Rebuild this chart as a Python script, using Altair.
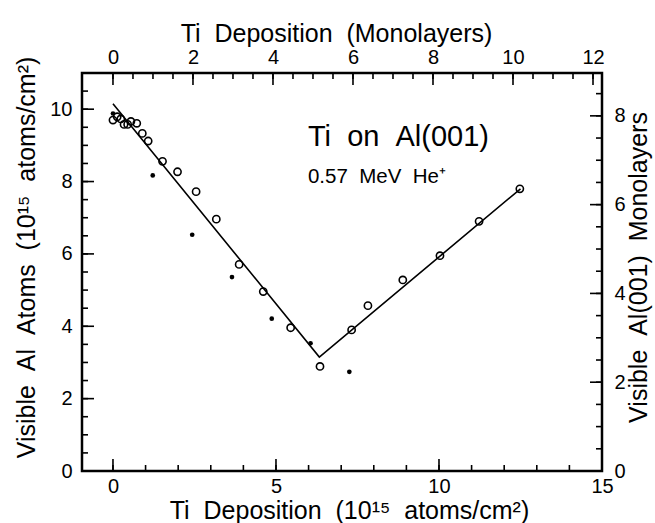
import altair as alt
import pandas as pd

# ---- data ----
open_dep = [0.00, 0.13, 0.24, 0.34, 0.45, 0.55, 0.73, 0.90, 1.08, 1.52, 1.98, 2.55,
            3.17, 3.87, 4.61, 5.45, 6.35, 7.32, 7.82, 8.89, 10.03, 11.23, 12.48]
open_al = [9.70, 9.79, 9.73, 9.58, 9.58, 9.66, 9.61, 9.33, 9.12, 8.56, 8.27, 7.72,
           6.96, 5.71, 4.96, 3.96, 2.89, 3.90, 4.57, 5.28, 5.95, 6.90, 7.80]
filled_dep = [0.00, 1.22, 2.43, 3.65, 4.87, 6.06, 7.25]
filled_al = [9.88, 8.17, 6.53, 5.36, 4.21, 3.53, 2.74]
fit_dep = [0.0, 6.33, 12.5]
fit_al = [10.15, 3.15, 7.80]

ML = 1.227  # 10^15 atoms/cm^2 per Al(001) monolayer

x_major = [0, 5, 10, 15]
x_minor = list(range(0, 16))
y_major = [0, 2, 4, 6, 8, 10]
y_minor = [i * 0.5 for i in range(0, 23)]
mlx_major = [0, 2, 4, 6, 8, 10, 12]
mlx_minor = [i * 0.5 for i in range(0, 25)]
mly_major = [0, 2, 4, 6, 8]
mly_minor = [i * 0.5 for i in range(0, 18)]

annot_text = ["Ti \u00a0on \u00a0Al(001)", "0.57 \u00a0MeV \u00a0He\u207a"]
annot_dep = [5.98, 5.98]
annot_al = [8.98, 7.96]

W, H = 520, 398
FONT = "Liberation Sans"
MAJOR_LEN, MINOR_LEN = 12, 6
TICK_COLOR = "black"

XDOM = [-0.95, 15]
YDOM = [0, 11]


def xs():
    return alt.Scale(domain=XDOM, nice=False, zero=False)


def ys():
    return alt.Scale(domain=YDOM, nice=False, zero=False)


mxs = alt.Scale(domain=[XDOM[0] / ML, XDOM[1] / ML], nice=False, zero=False)
mys = alt.Scale(domain=[YDOM[0] / ML, YDOM[1] / ML], nice=False, zero=False)

open_df = pd.DataFrame({"dep": open_dep, "al": open_al})
filled_df = pd.DataFrame({"dep": filled_dep, "al": filled_al})
fit_df = pd.DataFrame({"dep": fit_dep, "al": fit_al})

# line with bottom / left labels and titles
line = alt.Chart(fit_df).mark_line(color="black", strokeWidth=1.6).encode(
    x=alt.X("dep:Q", scale=xs(), axis=alt.Axis(
        orient="bottom", values=x_major, ticks=False, domain=False, labelFlush=False,
        labelPadding=5, title="Ti \u00a0Deposition \u00a0(10\u00b9\u2075 \u00a0atoms/cm\u00b2)",
        titlePadding=2, titleFontSize=25, titleX=267)),
    y=alt.Y("al:Q", scale=ys(), axis=alt.Axis(
        orient="left", values=y_major, ticks=False, domain=False,
        labelPadding=10, title="Visible \u00a0Al \u00a0Atoms \u00a0(10\u00b9\u2075 \u00a0atoms/cm\u00b2)",
        titlePadding=10, titleFontSize=25, titleY=184)),
)

opens = alt.Chart(open_df).mark_point(shape="circle", filled=False, color="black",
                                      strokeWidth=1.6, size=52, opacity=1).encode(
    x=alt.X("dep:Q", scale=xs(), axis=None),
    y=alt.Y("al:Q", scale=ys(), axis=None),
)

filled = alt.Chart(filled_df).mark_point(shape="circle", filled=True, color="black",
                                         size=22, opacity=1).encode(
    x=alt.X("dep:Q", scale=xs(), axis=None),
    y=alt.Y("al:Q", scale=ys(), axis=None),
)


# inward tick marks drawn from the tick-value lists
def xticks(values, side, length, factor=1.0):
    df = pd.DataFrame({"xv": [v * factor for v in values]})
    if side == "bottom":
        y0, y1 = H, H - length
    else:
        y0, y1 = 0, length
    return alt.Chart(df).mark_rule(color=TICK_COLOR, strokeWidth=1.6, opacity=1).encode(
        x=alt.X("xv:Q", scale=xs(), axis=None),
        y=alt.value(y0), y2=alt.value(y1),
    )


def yticks(values, side, length, factor=1.0):
    df = pd.DataFrame({"yv": [v * factor for v in values]})
    if side == "left":
        x0, x1 = 0, length
    else:
        x0, x1 = W, W - length
    return alt.Chart(df).mark_rule(color=TICK_COLOR, strokeWidth=1.6, opacity=1).encode(
        y=alt.Y("yv:Q", scale=ys(), axis=None),
        x=alt.value(x0), x2=alt.value(x1),
    )


tick_layers = [
    xticks(x_minor, "bottom", MINOR_LEN), xticks(x_major, "bottom", MAJOR_LEN),
    yticks(y_minor, "left", MINOR_LEN), yticks(y_major, "left", MAJOR_LEN),
    xticks(mlx_minor, "top", MINOR_LEN, ML), xticks(mlx_major, "top", MAJOR_LEN, ML),
    yticks(mly_minor, "right", MINOR_LEN, ML), yticks(mly_major, "right", MAJOR_LEN, ML),
]

# monolayer axes (top / right)
ml_labels = alt.Chart(open_df).transform_calculate(
    mlx=f"datum.dep / {ML}", mly=f"datum.al / {ML}"
).mark_point(opacity=0).encode(
    x=alt.X("mlx:Q", scale=mxs, axis=alt.Axis(
        orient="top", values=mlx_major, ticks=False, domain=False, labelFlush=False,
        labelPadding=6, title="Ti \u00a0Deposition \u00a0(Monolayers)", titlePadding=1,
        titleFontSize=25, titleX=254)),
    y=alt.Y("mly:Q", scale=mys, axis=alt.Axis(
        orient="right", values=mly_major, ticks=False, domain=False,
        labelPadding=12, title="Visible \u00a0Al(001) \u00a0Monolayers", titlePadding=1,
        titleFontSize=25, titleAngle=270, titleBaseline="top", titleY=194)),
)

# annotations
ann1 = alt.Chart(pd.DataFrame({"dep": annot_dep[:1], "al": annot_al[:1], "t": annot_text[:1]})).mark_text(
    align="left", baseline="alphabetic", fontSize=29, font=FONT, color="black"
).encode(x=alt.X("dep:Q", scale=xs(), axis=None), y=alt.Y("al:Q", scale=ys(), axis=None), text="t:N")
ann2 = alt.Chart(pd.DataFrame({"dep": annot_dep[1:], "al": annot_al[1:], "t": annot_text[1:]})).mark_text(
    align="left", baseline="alphabetic", fontSize=20.5, font=FONT, color="black"
).encode(x=alt.X("dep:Q", scale=xs(), axis=None), y=alt.Y("al:Q", scale=ys(), axis=None), text="t:N")

chart = alt.layer(*tick_layers, line, opens, filled, ml_labels, ann1, ann2).resolve_scale(
    x="independent", y="independent"
).properties(
    width=W, height=H,
    padding={"left": 82, "top": 73, "right": 53, "bottom": 52},
    autosize=alt.AutoSizeParams(type="none"),
    background="white",
).configure_view(
    stroke="black", strokeWidth=2.5
).configure_axis(
    grid=False, labelFont=FONT, titleFont=FONT, labelFontSize=20, titleFontSize=24,
    labelColor="black", titleColor="black", titleFontWeight="normal",
    tickColor="black", domainColor="black", labelOverlap=False,
)

chart.save("out.html", embed_options={"renderer": "svg", "actions": False})
